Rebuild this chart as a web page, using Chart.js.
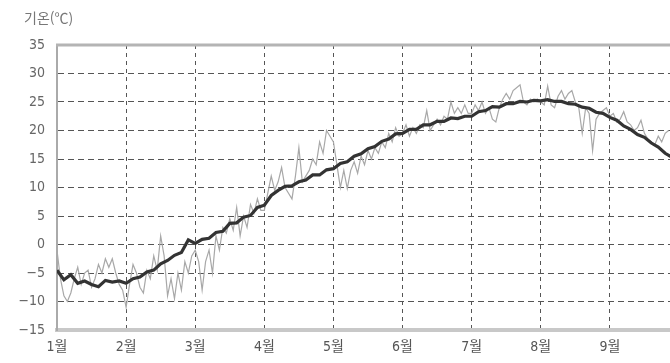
<!DOCTYPE html>
<html lang="ko">
<head>
<meta charset="utf-8">
<script src="https://cdn.jsdelivr.net/npm/chart.js@4/dist/chart.umd.min.js"></script>
<style>
  html, body { margin: 0; padding: 0; background: #fff; }
  #wrap { width: 670px; height: 363px; position: relative; }
</style>
</head>
<body>
<div id="wrap"><canvas id="c" width="670" height="363"></canvas></div>
<script>
// Month ticks (position 1 = 1월 start, uniform month spacing)
const monthTicks = [1, 2, 3, 4, 5, 6, 7, 8, 9];
const monthLabels = ['1월', '2월', '3월', '4월', '5월', '6월', '7월', '8월', '9월'];
const yTicks = [-15, -10, -5, 0, 5, 10, 15, 20, 25, 30, 35];
const xEnd = 9.87;

// Daily observed temperature (℃), sampled every 1/20 month from 1월 start
const obsStep = 0.05;
const observed = [
  // 1월
  -1, -6, -9, -10, -8.5, -6, -4, -7, -5, -4.5, -7.5, -6, -3.5, -5, -2.5, -4, -2.5, -5, -7, -8,
  // 2월
  -11, -7, -3.5, -5, -7.5, -8.5, -4.5, -6, -2, -4.5, 1.5, -2, -9, -6, -9.5, -5, -8, -3, -5, -2,
  // 3월
  -1, -3, -8, -3, -1, -5, 1.5, -1, 3, 2, 4.5, 2.5, 6.5, 1.5, 5, 3, 7, 5.5, 8, 6,
  // 4월
  6, 9, 12, 9.5, 11, 13.5, 10, 9, 8, 12, 17, 11, 12, 13, 15, 14, 18, 16, 20, 19,
  // 5월
  18, 14, 10, 13, 9.8, 13, 14.5, 12.5, 15.5, 14, 16.5, 15, 17, 16, 18, 17, 19.5, 18, 20.5, 19,
  // 6월
  19.5, 21, 19, 20.5, 19.5, 21, 20.5, 23.5, 20, 21, 22, 21, 22.5, 22, 25, 23, 24, 23, 24.5, 23,
  // 7월
  23, 24.5, 23.5, 25, 23, 24, 22, 21.5, 24, 25.5, 26.5, 25.5, 27, 27.5, 28, 25, 24.5, 25.5, 25, 25.5,
  // 8월
  25, 24.5, 27.8, 24.5, 24, 26, 27, 25.5, 26.5, 27, 25, 24, 19.5, 24, 23, 16.5, 22, 23, 23.5, 24,
  // 9월
  22.5, 23, 21.5, 22, 23.3, 21.5, 21, 20, 20.5, 21.8, 19.5, 18.5, 18, 17.5, 19, 18, 19.5, 20
];

// Normal (average) temperature (℃), sampled every 1/10 month
const normStep = 0.1;
const normal = [
  // 1월
  -4.5, -6.2, -5.3, -6.8, -6.4, -7.0, -7.4, -6.3, -6.6, -6.4,
  // 2월
  -6.8, -6.0, -5.7, -4.8, -4.5, -3.4, -2.8, -1.9, -1.4, 0.8,
  // 3월
  0.2, 0.9, 1.1, 2.1, 2.3, 3.7, 3.8, 4.8, 5.1, 6.5,
  // 4월
  6.9, 8.6, 9.5, 10.2, 10.3, 11.0, 11.3, 12.2, 12.2, 13.1,
  // 5월
  13.3, 14.2, 14.5, 15.5, 15.9, 16.8, 17.2, 18.1, 18.5, 19.4,
  // 6월
  19.5, 20.2, 20.2, 21.0, 21.0, 21.6, 21.6, 22.2, 22.1, 22.5,
  // 7월
  22.5, 23.3, 23.5, 24.2, 24.1, 24.7, 24.7, 25.1, 25.0, 25.3,
  // 8월
  25.2, 25.4, 25.1, 25.1, 24.7, 24.6, 24.1, 23.9, 23.2, 23.0,
  // 9월
  22.3, 21.8, 20.8, 20.2, 19.3, 18.8, 17.8, 17.1, 16.0, 15.3
];

const toPoints = (vals, step) => vals.map((v, i) => ({ x: 1 + i * step, y: v }));

const FONT = "'Liberation Sans Narrow', 'DejaVu Sans Condensed', 'Noto Sans CJK KR', sans-serif";

// Title text and the top edge of the plot frame
const framePlugin = {
  id: 'frame',
  afterDraw(chart) {
    const { ctx, chartArea: a } = chart;
    ctx.save();
    ctx.strokeStyle = '#b4b4b4';
    ctx.lineWidth = 3;
    ctx.beginPath();
    ctx.moveTo(a.left - 1, a.top);
    ctx.lineTo(a.right, a.top);
    ctx.stroke();
    ctx.fillStyle = '#777';
    ctx.font = "14px 'Noto Sans CJK KR', sans-serif";
    ctx.textBaseline = 'middle';
    ctx.textAlign = 'left';
    ctx.fillText('기온(℃)', 24, 18);
    ctx.restore();
  }
};

new Chart(document.getElementById('c'), {
  type: 'scatter',
  data: {
    datasets: [
      {
        label: '평년',
        data: toPoints(normal, normStep),
        showLine: true,
        borderColor: '#333',
        borderWidth: 3.2,
        pointRadius: 0,
        tension: 0,
        order: 0
      },
      {
        label: '기온',
        data: toPoints(observed, obsStep),
        showLine: true,
        borderColor: '#a8a8a8',
        borderWidth: 1.2,
        pointRadius: 0,
        tension: 0,
        order: 1
      }
    ]
  },
  options: {
    responsive: false,
    animation: false,
    layout: { padding: { top: 45, right: 0, left: 0, bottom: 0 } },
    plugins: { legend: { display: false }, tooltip: { enabled: false }, title: { display: false } },
    scales: {
      x: {
        type: 'linear',
        min: 1,
        max: xEnd,
        afterBuildTicks(s) { s.ticks = monthTicks.map(v => ({ value: v })); },
        afterFit(s) { s.height = 33; },
        ticks: {
          padding: 9,
          color: '#555',
          font: { family: FONT, size: 14 },
          maxRotation: 0,
          autoSkip: false,
          callback: (v) => monthLabels[monthTicks.indexOf(v)]
        },
        grid: {
          drawTicks: false,
          color: (c) => (c.tick && c.tick.value === 1 ? 'rgba(0,0,0,0)' : '#555'),
          lineWidth: 1
        },
        border: { display: true, color: '#c8c8c8', width: 4, dash: [4, 4] }
      },
      y: {
        min: -15,
        max: 35,
        afterBuildTicks(s) { s.ticks = yTicks.map(v => ({ value: v })); },
        afterFit(s) { s.width = 57; },
        ticks: {
          padding: 12,
          color: '#666',
          font: { family: FONT, size: 14 },
          callback: (v) => (v < 0 ? '\u2212' + Math.abs(v) : String(v))
        },
        grid: {
          drawTicks: false,
          color: (c) => (c.tick && (c.tick.value === -15 || c.tick.value === 35) ? 'rgba(0,0,0,0)' : '#555'),
          lineWidth: 1
        },
        border: { display: true, color: '#aaa', width: 2, dash: [6, 4] }
      }
    }
  },
  plugins: [framePlugin]
});
</script>
</body>
</html>
